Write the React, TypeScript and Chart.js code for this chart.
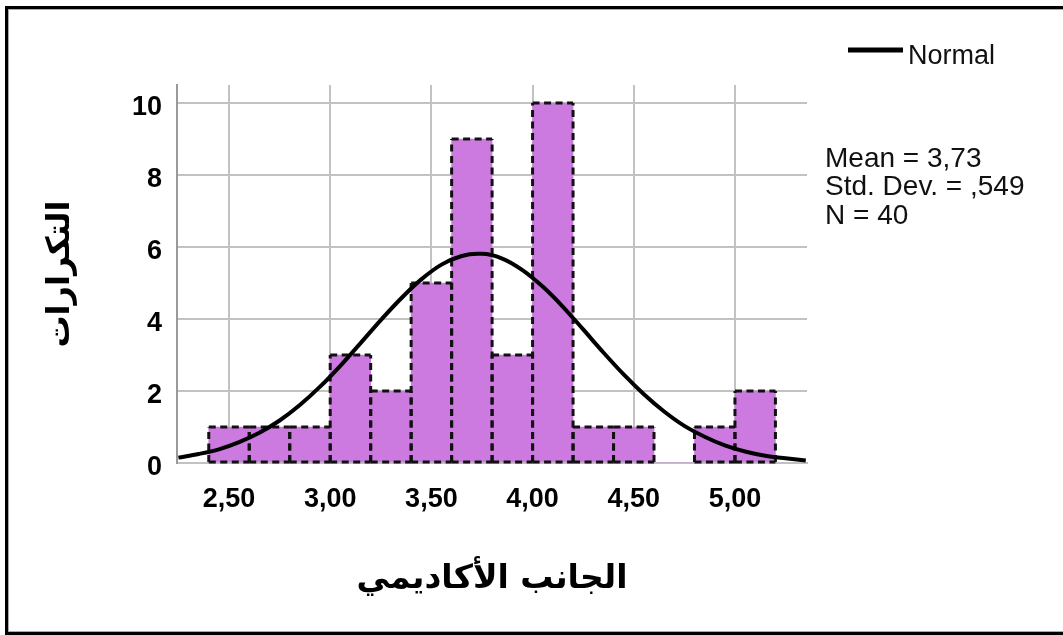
import React, { useEffect, useRef } from "react";
import { Chart, registerables } from "chart.js";

Chart.register(...registerables);

// ---- data ----
const BIN_CENTERS = [2.5, 2.7, 2.9, 3.1, 3.3, 3.5, 3.7, 3.9, 4.1, 4.3, 4.5, 4.7, 4.9, 5.1];
const FREQUENCIES = [1, 1, 1, 3, 2, 5, 9, 3, 10, 1, 1, 0, 1, 2];

const CURVE_X = [
  2.25, 2.35, 2.45, 2.55, 2.65, 2.75, 2.85, 2.95, 3.05, 3.15, 3.25, 3.35, 3.45, 3.55, 3.65,
  3.73, 3.75, 3.85, 3.95, 4.05, 4.15, 4.25, 4.35, 4.45, 4.55, 4.65, 4.75, 4.85, 4.95, 5.05,
  5.15, 5.25, 5.35,
];
const CURVE_Y = [
  0.15, 0.25, 0.38, 0.58, 0.84, 1.18, 1.61, 2.12, 2.7, 3.33, 3.97, 4.57, 5.1, 5.51, 5.75,
  5.81, 5.81, 5.68, 5.36, 4.9, 4.34, 3.71, 3.07, 2.46, 1.91, 1.43, 1.03, 0.73, 0.49, 0.32,
  0.2, 0.13, 0.07,
];

const X_TICKS = [2.5, 3.0, 3.5, 4.0, 4.5, 5.0];
const X_TICK_LABELS = ["2,50", "3,00", "3,50", "4,00", "4,50", "5,00"];
const Y_TICKS = [0, 2, 4, 6, 8, 10];
const Y_TICK_LABELS = ["0", "2", "4", "6", "8", "10"];

const X_MIN = 2.243;
const X_MAX = 5.356;
const Y_MIN = 0;
const Y_MAX = 10.5;

const X_TITLE = "الجانب الأكاديمي";
const Y_TITLE = "التكرارات";
const LEGEND_LABEL = "Normal";
const STATS_LINES = ["Mean = 3,73", "Std. Dev. = ,549", "N = 40"];

// ---- styles ----
const BAR_FILL = "#cc7ae0";
const GRID_COLOR = "#c2c2c2";
const TEXT_FONT = "'Liberation Sans', Arial, sans-serif";
const ARABIC_FONT = "'DejaVu Sans', sans-serif";

const W = 1063;
const H = 635;

const dashedBars = {
  id: "dashedBars",
  afterDatasetDraw(chart: any, args: any) {
    if (args.meta.type !== "bar") return;
    const ctx = chart.ctx;
    ctx.save();
    ctx.strokeStyle = "#111";
    ctx.lineWidth = 3;
    ctx.setLineDash([7, 4.5]);
    const seg = (x1: number, y1: number, x2: number, y2: number) => {
      ctx.beginPath();
      ctx.moveTo(x1, y1);
      ctx.lineTo(x2, y2);
      ctx.stroke();
    };
    args.meta.data.forEach((el: any, i: number) => {
      if (!FREQUENCIES[i]) return;
      const p = el.getProps(["x", "y", "base", "width"], true);
      const l = p.x - p.width / 2;
      const r = p.x + p.width / 2;
      // verticals drawn from the base upward so shared edges keep the same phase
      seg(l, p.base, l, p.y);
      seg(r, p.base, r, p.y);
      seg(l, p.y, r, p.y);
      seg(l, p.base, r, p.base);
    });
    ctx.restore();
  },
};

const sideText = {
  id: "sideText",
  afterDraw(chart: any) {
    const ctx = chart.ctx;
    const right = chart.chartArea.right;
    ctx.save();
    // legend
    ctx.strokeStyle = "#000";
    ctx.lineWidth = 5;
    ctx.beginPath();
    ctx.moveTo(right + 41, 50);
    ctx.lineTo(right + 96, 50);
    ctx.stroke();
    ctx.fillStyle = "#111";
    ctx.textAlign = "left";
    ctx.textBaseline = "alphabetic";
    ctx.font = `27px ${TEXT_FONT}`;
    ctx.fillText(LEGEND_LABEL, right + 101, 64);
    // statistics
    ctx.font = `28px ${TEXT_FONT}`;
    STATS_LINES.forEach((t, i) => {
      ctx.fillText(t, right + 18, 167 + i * 28.3);
    });
    ctx.restore();
  },
};

export default function App() {
  const canvasRef = useRef<HTMLCanvasElement | null>(null);

  useEffect(() => {
    const canvas = canvasRef.current;
    if (!canvas) return;
    const chart = new Chart(canvas, {
      type: "bar",
      data: {
        datasets: [
          {
            type: "line",
            label: LEGEND_LABEL,
            data: CURVE_X.map((x, i) => ({ x, y: CURVE_Y[i] })),
            borderColor: "#000",
            borderWidth: 4,
            pointRadius: 0,
            tension: 0.4,
            cubicInterpolationMode: "monotone",
            fill: false,
            order: 0,
          } as any,
          {
            type: "bar",
            label: "Frequency",
            data: BIN_CENTERS.map((x, i) => ({ x, y: FREQUENCIES[i] })),
            backgroundColor: BAR_FILL,
            borderWidth: 0,
            barPercentage: 1,
            categoryPercentage: 1,
            grouped: false,
            order: 1,
          } as any,
        ],
      },
      options: {
        animation: false,
        responsive: false,
        devicePixelRatio: 1,
        layout: { padding: { left: 0, top: 85, right: W - 807, bottom: 0 } },
        plugins: {
          legend: { display: false },
          tooltip: { enabled: false },
          title: { display: false },
        },
        scales: {
          x: {
            type: "linear",
            min: X_MIN,
            max: X_MAX,
            offset: false,
            afterBuildTicks: (scale: any) => {
              scale.ticks = X_TICKS.map((v) => ({ value: v }));
            },
            afterFit: (scale: any) => {
              scale.height = H - 463;
            },
            grid: {
              color: GRID_COLOR,
              lineWidth: 2,
              drawTicks: false,
              offset: false,
            },
            border: { display: true, color: GRID_COLOR, width: 2 },
            ticks: {
              padding: 20,
              color: "#000",
              maxRotation: 0,
              autoSkip: false,
              font: { family: TEXT_FONT, size: 27, weight: "bold" },
              callback: (v: any) => {
                const i = X_TICKS.indexOf(Number(v));
                return i >= 0 ? X_TICK_LABELS[i] : "";
              },
            },
            title: {
              display: true,
              text: X_TITLE,
              color: "#000",
              font: { family: ARABIC_FONT, size: 33, weight: "bold" },
              padding: { top: 0, bottom: 36 },
            },
          },
          y: {
            type: "linear",
            min: Y_MIN,
            max: Y_MAX,
            afterBuildTicks: (scale: any) => {
              scale.ticks = Y_TICKS.map((v) => ({ value: v }));
            },
            afterFit: (scale: any) => {
              scale.width = 177;
            },
            grid: {
              color: GRID_COLOR,
              lineWidth: 2,
              drawTicks: false,
            },
            border: { display: true, color: "#9a9a9a", width: 2 },
            ticks: {
              padding: 15,
              color: "#000",
              autoSkip: false,
              labelOffset: 5,
              font: { family: TEXT_FONT, size: 27, weight: "bold" },
              callback: (v: any) => {
                const i = Y_TICKS.indexOf(Number(v));
                return i >= 0 ? Y_TICK_LABELS[i] : "";
              },
            },
            title: {
              display: true,
              text: Y_TITLE,
              color: "#000",
              font: { family: ARABIC_FONT, size: 32, weight: "bold" },
              padding: { top: 41, bottom: 0 },
            },
          },
        },
      } as any,
      plugins: [dashedBars, sideText],
    });
    return () => chart.destroy();
  }, []);

  return (
    <div
      style={{
        position: "fixed",
        left: 0,
        top: 0,
        width: W,
        height: H,
        background: "#fff",
        overflow: "hidden",
      }}
    >
      <canvas
        ref={canvasRef}
        width={W}
        height={H}
        style={{ position: "absolute", left: 0, top: 0, width: W, height: H }}
      />
      <div
        style={{
          position: "absolute",
          left: 5,
          top: 6,
          width: W + 40,
          height: H - 6,
          boxSizing: "border-box",
          borderLeft: "3px solid #000",
          borderTop: "3px solid #000",
          borderBottom: "3px solid #000",
          boxShadow: "inset 1px 1px 0 #aaa, inset 0 -1px 0 #aaa",
          pointerEvents: "none",
        }}
      />
    </div>
  );
}
